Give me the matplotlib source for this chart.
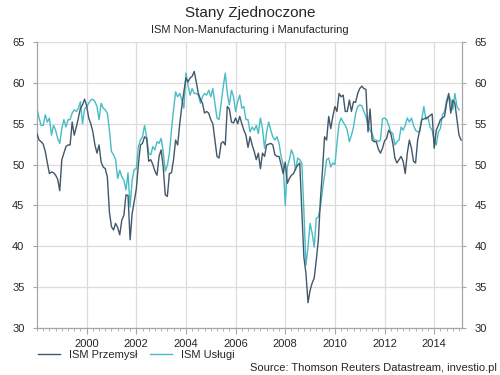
import numpy as np
import matplotlib
matplotlib.use("Agg")
import matplotlib.pyplot as plt
from matplotlib.ticker import MultipleLocator

plt.rcParams['font.family'] = ['Liberation Sans', 'DejaVu Sans']

start_year = 1998
# ISM Manufacturing (Przemysł), monthly from Jan 1998
manufacturing = [
    53.8, 53.0, 52.8, 52.5, 51.6, 50.2, 48.9, 49.1, 49.0, 48.7, 48.2, 46.8,   # 1998
    50.6, 51.4, 52.2, 52.4, 52.4, 55.2, 53.6, 54.6, 55.7, 56.9, 57.3, 58.0,   # 1999
    57.2, 55.7, 55.0, 54.0, 52.4, 51.4, 52.4, 50.3, 49.7, 49.5, 48.5, 44.2,   # 2000
    42.4, 42.0, 42.8, 42.3, 41.4, 43.2, 43.8, 46.3, 46.2, 40.8, 44.0, 45.5,   # 2001
    47.0, 50.0, 52.4, 52.6, 53.4, 53.2, 50.4, 50.6, 50.0, 49.2, 48.7, 51.0,   # 2002
    51.8, 49.7, 46.3, 46.1, 48.9, 49.0, 50.6, 53.0, 52.4, 55.0, 57.1, 58.9,   # 2003
    60.6, 60.1, 60.6, 60.8, 61.4, 60.1, 58.7, 58.0, 57.5, 56.3, 56.5, 56.3,   # 2004
    55.5, 55.0, 53.0, 51.0, 50.8, 52.6, 52.8, 52.4, 57.1, 56.8, 55.2, 55.1,   # 2005
    55.7, 55.0, 55.9, 55.0, 54.2, 53.6, 52.1, 53.4, 52.4, 51.6, 50.6, 51.4,   # 2006
    49.5, 51.4, 51.0, 52.4, 52.5, 52.6, 52.4, 51.2, 51.0, 51.0, 50.0, 48.9,   # 2007
    50.3, 47.7, 48.3, 48.7, 48.9, 49.5, 49.9, 50.2, 44.5, 38.7, 36.7, 33.1,   # 2008
    34.6, 35.5, 36.1, 38.3, 40.8, 45.7, 49.3, 53.4, 53.0, 55.9, 54.4, 55.9,   # 2009
    57.1, 56.5, 58.7, 58.3, 58.5, 56.5, 56.5, 57.9, 56.5, 57.7, 57.6, 58.7,   # 2010
    59.3, 59.6, 59.3, 59.2, 54.0, 56.8, 53.0, 52.8, 52.8, 51.9, 51.4, 52.0,   # 2011
    52.9, 53.2, 54.2, 53.8, 52.6, 50.8, 50.2, 50.6, 51.0, 50.4, 48.9, 51.4,   # 2012
    53.0, 52.0, 50.4, 50.2, 53.0, 54.2, 55.5, 55.6, 55.7, 55.8, 56.0, 56.2,   # 2013
    52.0, 54.2, 54.8, 55.5, 55.7, 55.9, 57.5, 58.7, 56.3, 57.9, 57.5, 55.5,   # 2014
    53.6, 53.0,                                                               # 2015
]
# ISM Non-Manufacturing (Usługi), monthly from Jan 1998
services = [
    56.9, 55.7, 54.8, 54.8, 56.1, 55.2, 55.7, 53.6, 54.8, 54.2, 53.2, 52.6,   # 1998
    54.4, 55.5, 54.6, 55.5, 55.5, 56.3, 56.7, 56.5, 56.9, 57.7, 55.0, 56.8,   # 1999
    57.1, 57.5, 57.9, 58.0, 57.7, 57.1, 55.5, 57.5, 56.9, 56.7, 56.3, 54.2,   # 2000
    51.6, 51.2, 50.6, 48.3, 49.3, 48.5, 48.1, 46.9, 49.0, 44.8, 48.1, 49.4,   # 2001
    49.5, 52.2, 53.0, 53.4, 54.8, 53.4, 51.4, 51.2, 52.2, 51.8, 52.8, 52.6,   # 2002
    53.2, 51.6, 49.2, 49.9, 51.4, 54.2, 56.7, 58.9, 58.3, 58.7, 57.9, 56.9,   # 2003
    61.2, 59.7, 58.5, 59.3, 58.7, 58.7, 58.5, 57.5, 58.3, 58.7, 58.5, 59.1,   # 2004
    58.3, 59.3, 57.5, 55.7, 55.5, 57.5, 59.5, 61.2, 58.7, 57.3, 59.1, 58.3,   # 2005
    56.5, 57.7, 58.5, 56.9, 57.1, 55.5, 55.5, 54.0, 54.6, 54.2, 54.8, 53.8,   # 2006
    55.7, 54.4, 52.0, 54.0, 55.2, 54.2, 53.4, 53.0, 53.4, 52.6, 51.0, 50.0,   # 2007
    45.0, 49.7, 50.6, 51.8, 51.1, 49.3, 50.8, 50.6, 50.2, 44.4, 37.7, 39.9,   # 2008
    42.8, 41.6, 39.9, 43.4, 43.6, 44.8, 46.9, 48.7, 50.6, 50.8, 49.7, 50.2,   # 2009
    50.0, 52.6, 55.0, 55.7, 55.2, 54.8, 54.2, 52.8, 53.6, 54.6, 56.2, 57.1,   # 2010
    57.3, 57.2, 56.5, 55.9, 54.8, 54.2, 53.8, 53.0, 53.0, 52.8, 53.0, 55.6,   # 2011
    55.7, 55.5, 54.8, 54.0, 53.8, 52.4, 52.8, 53.0, 54.6, 54.2, 54.8, 55.7,   # 2012
    55.2, 55.7, 54.8, 54.2, 54.0, 54.0, 55.6, 57.1, 55.5, 55.8, 54.6, 54.2,   # 2013
    53.0, 52.4, 54.0, 54.4, 56.1, 56.5, 57.9, 58.5, 57.9, 56.7, 58.7, 57.1,   # 2014
    56.7,                                                                     # 2015
]
year_ticks = [2000, 2002, 2004, 2006, 2008, 2010, 2012, 2014]
y_ticks = [30, 35, 40, 45, 50, 55, 60, 65]

t_m = start_year + np.arange(len(manufacturing)) / 12.0
t_s = start_year + np.arange(len(services)) / 12.0

dark = '#42576a'
cyan = '#48bcc4'
grid_c = '#dcdcdc'
spine_c = '#a6a6a6'
text_c = '#262626'

fig = plt.figure(figsize=(5, 3.75), dpi=100)
ax = fig.add_axes([0.074, 0.1253, 0.85, 0.7627])

ax.plot(t_m, manufacturing, color=dark, lw=1.0, label='ISM Przemysł', zorder=3)
ax.plot(t_s, services, color=cyan, lw=1.0, label='ISM Usługi', zorder=2)

ax.set_xlim(1998.0, 2015.12)
ax.set_ylim(30, 65)
ax.set_yticks(y_ticks)
ax.set_xticks(year_ticks)
ax.set_xticklabels([str(y) for y in year_ticks])
ax.xaxis.set_minor_locator(MultipleLocator(0.25))
ax.grid(True, which='major', color=grid_c, lw=0.9)
ax.set_axisbelow(True)

ax.spines['top'].set_visible(False)
for s in ['left', 'right', 'bottom']:
    ax.spines[s].set_color(spine_c)
    ax.spines[s].set_linewidth(0.9)

ax.tick_params(axis='y', which='major', left=True, right=True, labelleft=True,
               labelright=True, length=3, color=spine_c, labelsize=8,
               labelcolor=text_c, pad=6)
ax.tick_params(axis='x', which='major', length=4, color=spine_c, labelsize=8,
               labelcolor=text_c, pad=4)
ax.tick_params(axis='x', which='minor', length=2, color=spine_c)

fig.text(0.5, 0.965, 'Stany Zjednoczone', ha='center', va='center',
         fontsize=11, color=text_c)
fig.text(0.5, 0.921, 'ISM Non-Manufacturing i Manufacturing', ha='center',
         va='center', fontsize=8, color=text_c)

leg = fig.legend(loc='center left', bbox_to_anchor=(0.055, 0.054), ncol=2,
                 frameon=False, fontsize=8, handlelength=2.0,
                 columnspacing=1.15, handletextpad=0.8)
for txt in leg.get_texts():
    txt.set_color(text_c)

fig.text(0.994, 0.019, 'Source: Thomson Reuters Datastream, investio.pl',
         ha='right', va='center', fontsize=8, color=text_c)

fig.savefig('out.png', dpi=100)
